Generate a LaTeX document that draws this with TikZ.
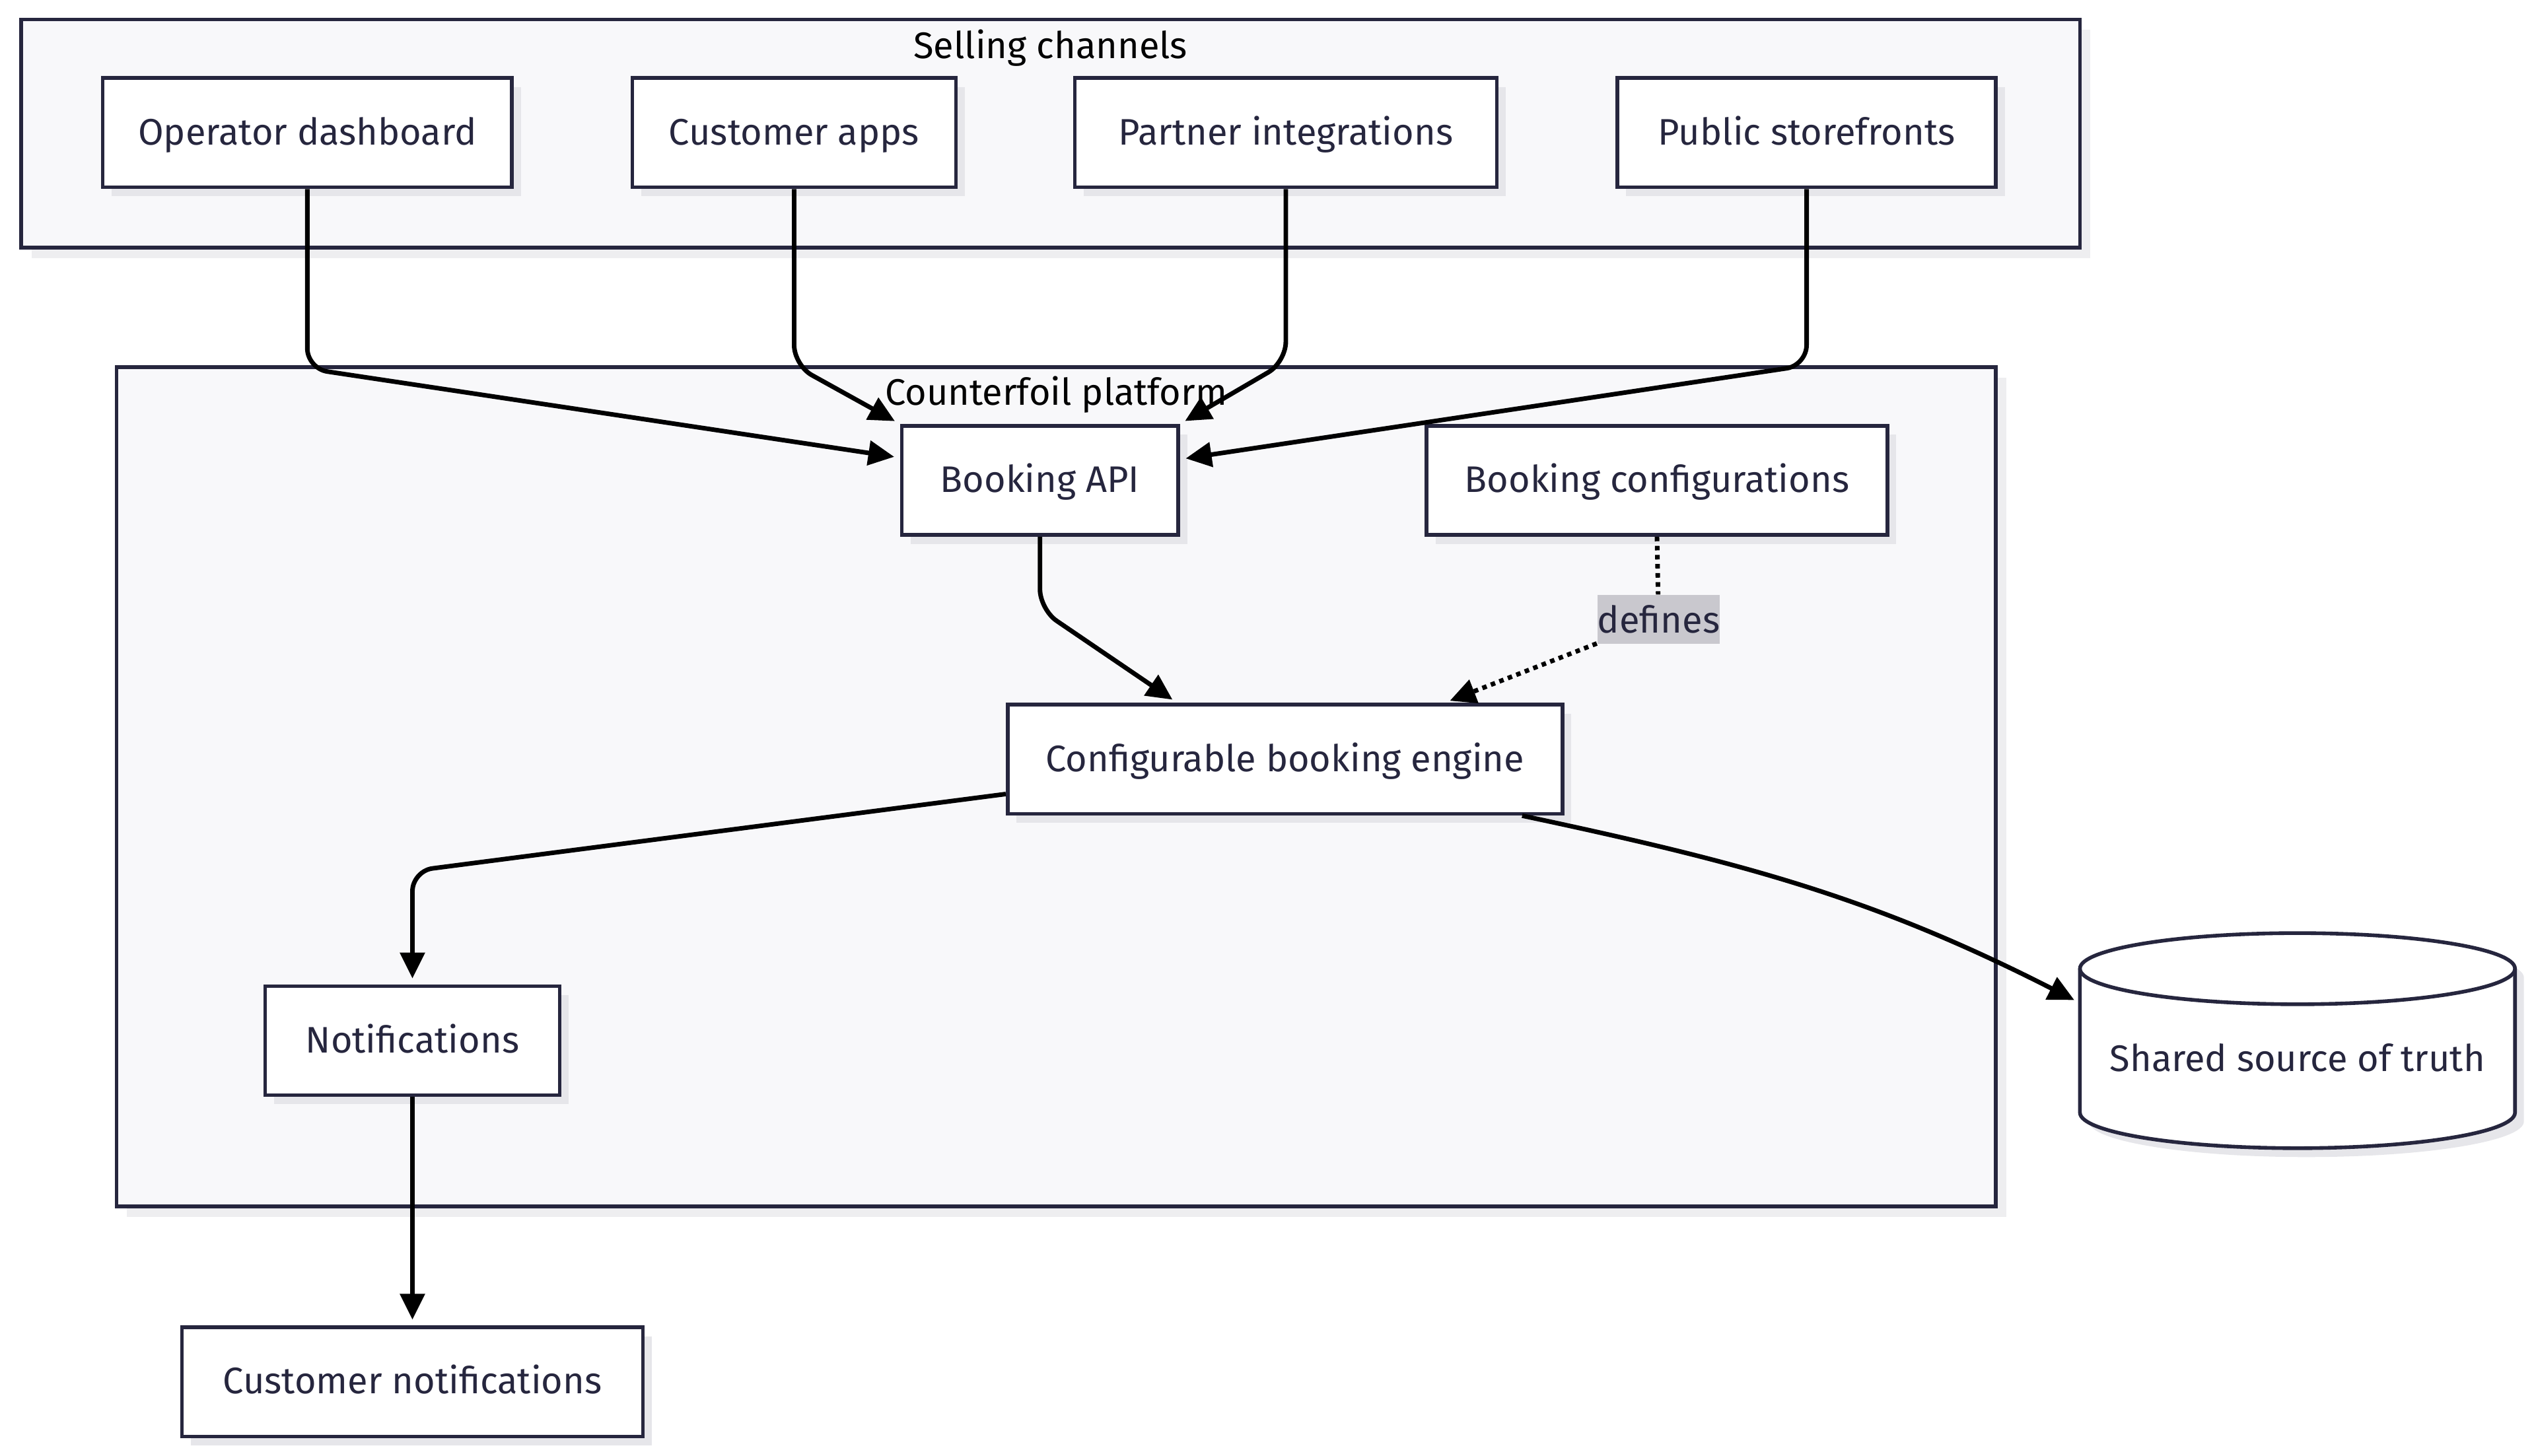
\documentclass[tikz,border=0pt]{standalone}
\usepackage{fontspec}
\setmainfont{Fira Sans}
\usepackage{tikz}
\usetikzlibrary{positioning, arrows.meta, shadows, calc}

\definecolor{nodeline}{HTML}{26263E}
\definecolor{nodetext}{HTML}{26263E}
\definecolor{clusterfill}{HTML}{F8F8FA}
\definecolor{boxshadow}{HTML}{E6E6EA}
\definecolor{clustershadow}{HTML}{EEEEF0}
\definecolor{labelgray}{HTML}{C9C8CE}

\tikzset{
  box/.style = {rectangle, draw=nodeline, line width=1.3pt, fill=white, text=nodetext, minimum height=1.35cm, inner sep=0pt, text height=1.0em, text depth=0.15em, font=\fontsize{13}{15}\selectfont, drop shadow={shadow xshift=0.11cm, shadow yshift=-0.11cm, fill=boxshadow, opacity=1}},
  cluster/.style = {rectangle, draw=nodeline, line width=1.3pt, fill=clusterfill, inner sep=0pt, drop shadow={shadow xshift=0.13cm, shadow yshift=-0.13cm, fill=clustershadow, opacity=1}},
  clustertitle/.style = {text=black, inner sep=0pt, font=\fontsize{13}{15}\selectfont},
  edge/.style = {draw=black, line width=1.6pt, -{Triangle[length=0.32cm, width=0.30cm]}, shorten >=2pt},
  dotedge/.style = {edge, dash pattern=on 1.6pt off 1.6pt},
  edgelabel/.style = {rectangle, fill=labelgray, text=nodetext, inner sep=0pt, minimum width=1.5cm, minimum height=0.6cm, font=\fontsize{13}{15}\selectfont},
  cylbody/.style = {draw=nodeline, line width=1.3pt, fill=white},
  cylshadow/.style = {fill=boxshadow},
}

\begin{document}
\begin{tikzpicture}
%PICTURE SCOPE
\useasboundingbox (0,0) rectangle (31.36,-18.0);
%CLUSTERS
\node (selling) [cluster, minimum width=25.46cm, minimum height=2.82cm] at (12.99,-1.65) {};
\node (sellingtitle) [clustertitle] at ([yshift=-0.38cm]selling.north) {Selling channels};
\node (platform) [cluster, minimum width=23.24cm, minimum height=10.38cm] at (13.06,-9.73) {};
\node (platformtitle) [clustertitle] at ([yshift=-0.36cm]platform.north) {Counterfoil platform};
%CHANNELS
\node (opdash) [box, minimum width=5.06cm] at (3.80,-1.64) {Operator dashboard};
\node (custapps) [box, minimum width=4.00cm] at (9.82,-1.64) {Customer apps};
\node (partner) [box, minimum width=5.22cm] at (15.90,-1.64) {Partner integrations};
\node (storefront) [box, minimum width=4.68cm] at (22.34,-1.64) {Public storefronts};
%PLATFORM
\node (bookapi) [box, minimum width=3.42cm] at (12.86,-5.94) {Booking API};
\node (bookcfg) [box, minimum width=5.70cm] at (20.49,-5.94) {Booking configurations};
\node (engine) [box, minimum width=6.86cm] at (15.89,-9.39) {Configurable booking engine};
\node (notif) [box, minimum width=3.64cm] at (5.10,-12.87) {Notifications};
%OUTSIDE
\node (custnotif) [box, minimum width=5.70cm] at (5.10,-17.09) {Customer notifications};
%SHARED STORE (cylinder)
\path [cylshadow] (25.83,-12.09) -- (25.83,-13.87) arc[start angle=180, end angle=360, x radius=2.69, y radius=0.44] -- (31.21,-12.09) arc[start angle=0, end angle=180, x radius=2.69, y radius=0.44] -- cycle;
\path [cylbody] (25.72,-11.98) -- (25.72,-13.76) arc[start angle=180, end angle=360, x radius=2.69, y radius=0.44] -- (31.10,-11.98) arc[start angle=0, end angle=180, x radius=2.69, y radius=0.44] -- cycle;
\draw [draw=nodeline, line width=1.3pt] (25.72,-11.98) arc[start angle=180, end angle=360, x radius=2.69, y radius=0.44];
\node (truth) [rectangle, inner sep=0pt, minimum width=5.38cm, text=nodetext, font=\fontsize{13}{15}\selectfont] at (28.41,-13.08) {Shared source of truth};
%%CONNECTIONS
\draw [edge, rounded corners=0.25cm] (opdash.south) -- ++(0,-2.22) -- ([yshift=0.28cm]bookapi.west);
\draw [edge, rounded corners=0.25cm] (custapps.south) -- ++(0,-2.18) -- (bookapi.north west);
\draw [edge, rounded corners=0.25cm] (partner.south) -- ++(0,-2.14) -- (bookapi.north east);
\draw [edge, rounded corners=0.25cm] (storefront.south) -- ++(0,-2.18) -- ([yshift=0.26cm]bookapi.east);
%%INTERCONNECTIONS
\draw [edge, rounded corners=0.25cm] (bookapi.south) -- ++(0,-0.90) -- ([xshift=2.12cm]engine.north west);
\node (defines) [edgelabel] at (20.51,-7.66) {defines};
\draw [dotedge] (bookcfg.south) -- (defines) -- ([xshift=-1.48cm]engine.north east);
\draw [edge, rounded corners=0.25cm] ([yshift=-0.43cm]engine.west) -- ([yshift=1.40cm]notif.north) -- (notif.north);
\draw [edge] ([xshift=-0.52cm]engine.south east) to [out=-12, in=153] ([yshift=0.68cm]truth.west);
\draw [edge] (notif.south) -- (custnotif.north);
\end{tikzpicture}
\end{document}
